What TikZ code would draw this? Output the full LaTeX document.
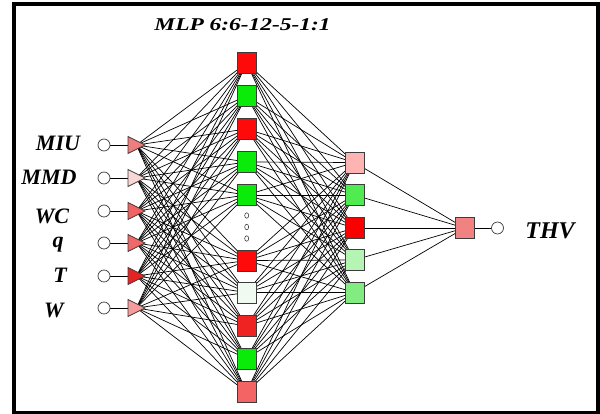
\documentclass[tikz,border=0pt]{standalone}
\usepackage{fontspec}
\setmainfont{Liberation Serif}[BoldFont={Liberation Serif Bold}, ItalicFont={Liberation Serif Italic}, BoldItalicFont={Liberation Serif Bold Italic}]
\usepackage{graphicx}
\usetikzlibrary{calc,shapes.geometric}
\pgfdeclarelayer{bg}
\pgfsetlayers{bg,main}
\definecolor{cMIU}{RGB}{240,125,125}
\definecolor{cMMD}{RGB}{250,215,215}
\definecolor{cWC}{RGB}{240,100,100}
\definecolor{cQ}{RGB}{240,105,105}
\definecolor{cT}{RGB}{230,35,35}
\definecolor{cW}{RGB}{245,155,155}
\definecolor{hred}{RGB}{255,10,10}
\definecolor{hgreen}{RGB}{10,235,10}
\definecolor{hwhite}{RGB}{240,250,240}
\definecolor{hredb}{RGB}{240,35,35}
\definecolor{hpinkred}{RGB}{245,100,100}
\definecolor{kpink}{RGB}{255,180,180}
\definecolor{kgreen}{RGB}{80,235,80}
\definecolor{kred}{RGB}{250,0,0}
\definecolor{klgreen}{RGB}{180,245,180}
\definecolor{kmgreen}{RGB}{130,235,130}
\definecolor{outc}{RGB}{240,130,130}
\definecolor{edgec}{RGB}{60,60,60}
\tikzset{
  neuron/.style={draw=edgec, line width=0.8pt, minimum width=19pt, minimum height=21pt, inner sep=0pt},
  port/.style={circle, draw=edgec, fill=white, line width=0.7pt, minimum size=12pt, inner sep=0pt},
  lab/.style={anchor=base, inner sep=0pt, font=\fontsize{22}{22}\selectfont\bfseries\itshape},
  wire/.style={black, line width=0.7pt},
  tri/.style={draw=edgec, line width=0.7pt}
}
\begin{document}
\begin{tikzpicture}[x=1pt,y=-1pt]
\useasboundingbox (0,0) rectangle (600,414);
\draw[line width=3.6pt] (14,4.3) rectangle (598,412.7);
% title
\node[anchor=base, inner sep=0pt] (title) at (242.5,30.9) {\scalebox{1.3}[1]{\fontsize{18}{18}\selectfont\bfseries\itshape MLP 6:6-12-5-1:1}};
% inputs: name/y/colour/label x/label baseline/text
\foreach \n/\y/\c/\lx/\ly/\t in {1/145/cMIU/58/150.7/MIU, 2/178/cMMD/49/185/MMD, 3/211/cWC/52/224/WC, 4/243/cQ/58/248/q, 5/276/cT/60/283/T, 6/308/cW/54/317/W}{
  \coordinate (i\n) at (136.5,\y);
  \node[port] (p\n) at (104,\y) {};
  \node[lab] (l\n) at (\lx,\ly) {\t};
  \begin{pgfonlayer}{bg}
    \draw[wire] (p\n) -- (i\n);
  \end{pgfonlayer}
  \draw[tri, fill=\c] ($(i\n)+(-8.5,-8.5)$) -- ($(i\n)+(8.5,0)$) -- ($(i\n)+(-8.5,8.5)$) -- cycle;
}
% hidden layer 1
\foreach \n/\y/\c in {1/63/hred, 2/96/hgreen, 3/129/hred, 4/162/hgreen, 5/195/hgreen, 6/260.5/hred, 7/292.5/hwhite, 8/326/hredb, 9/358.5/hgreen, 10/392/hpinkred}{
  \node[neuron, fill=\c] (h\n) at (246.5,\y) {};
}
\foreach \y [count=\k] in {215.5,227,238.5}{
  \node[draw=edgec, line width=0.6pt, ellipse, minimum width=4pt, minimum height=5.5pt, inner sep=0pt] (dot\k) at (246.7,\y) {};
}
% hidden layer 2
\foreach \n/\y/\c in {1/162.5/kpink, 2/195/kgreen, 3/228/kred, 4/260/klgreen, 5/292.5/kmgreen}{
  \node[neuron, fill=\c] (k\n) at (354.5,\y) {};
}
% output
\node[neuron, fill=outc] (o) at (464.5,228) {};
\node[port] (po) at (497.5,228) {};
\node[anchor=base, inner sep=0pt, font=\fontsize{24}{24}\selectfont\bfseries\itshape] (thv) at (550,238.3) {THV};
\begin{pgfonlayer}{bg}
  \foreach \i in {1,...,6}{
    \foreach \h in {1,...,10}{
      \draw[wire] (i\i) -- (h\h.center);
    }
  }
  \foreach \h in {1,...,10}{
    \foreach \k in {1,...,5}{
      \draw[wire] (h\h.center) -- (k\k.center);
    }
  }
  \foreach \k in {1,...,5}{
    \draw[wire] (k\k.center) -- (o.center);
  }
  \draw[wire] (o.center) -- (po);
\end{pgfonlayer}
\end{tikzpicture}
\end{document}
